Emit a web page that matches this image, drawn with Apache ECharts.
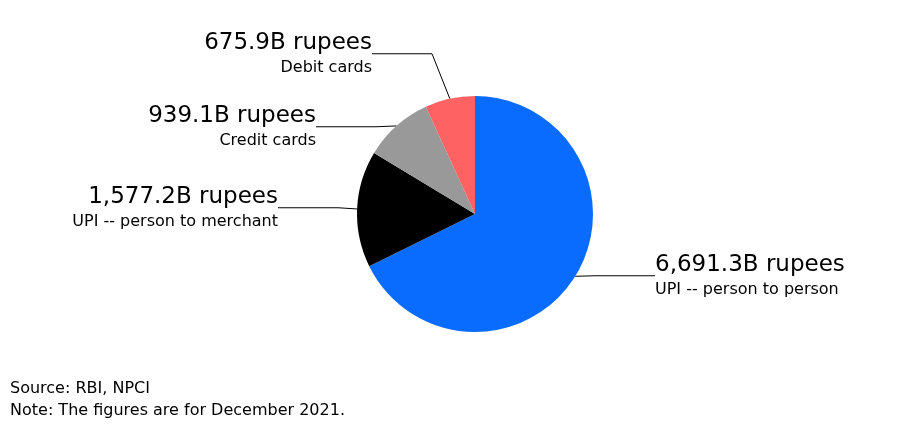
<!DOCTYPE html>
<html><head><meta charset="utf-8">
<script src="https://cdn.jsdelivr.net/npm/echarts@6/dist/echarts.min.js"></script>
<style>html,body{margin:0;background:#fff}#c{width:898px;height:437px}</style>
</head><body><div id="c"></div>
<script>
const categories = ["UPI -- person to person","UPI -- person to merchant","Credit cards","Debit cards"];
const values = [6691.3, 1577.2, 939.1, 675.9];
const valueLabels = ["6,691.3B rupees","1,577.2B rupees","939.1B rupees","675.9B rupees"];
const colors = ["#0a6cff","#000000","#999999","#ff6262"];
const labelPos = [[655,276,'left'],[278,208,'right'],[316,127,'right'],[372,54,'right']];
const chart = echarts.init(document.getElementById('c'));
chart.setOption({
  animation:false,
  textStyle:{fontFamily:'DejaVu Sans'},
  graphic:[{type:'text',left:10,top:378,style:{text:'Source: RBI, NPCI\nNote: The figures are for December 2021.',font:'16px DejaVu Sans',fill:'#000',lineHeight:22}}],
  series:[{
    type:'pie', center:[475,214], radius:[0,118], startAngle:90,
    data: categories.map((n,i)=>({name:n,value:values[i],itemStyle:{color:colors[i]},
      label:{formatter:'{a|'+valueLabels[i]+'}\n{b|'+n+'}',align:labelPos[i][2]}})),
    label:{show:true,position:'outside',rich:{
      a:{fontSize:23,color:'#000',lineHeight:28,fontFamily:'DejaVu Sans'},
      b:{fontSize:16,color:'#000',lineHeight:22,fontFamily:'DejaVu Sans'}}},
    labelLine:{show:true,length:20,length2:60,lineStyle:{color:'#000',width:1}},
    labelLayout:function(p){const i=p.dataIndex;return {x:labelPos[i][0],y:labelPos[i][1],align:labelPos[i][2],verticalAlign:'middle'};}
  }]
});
</script></body></html>
